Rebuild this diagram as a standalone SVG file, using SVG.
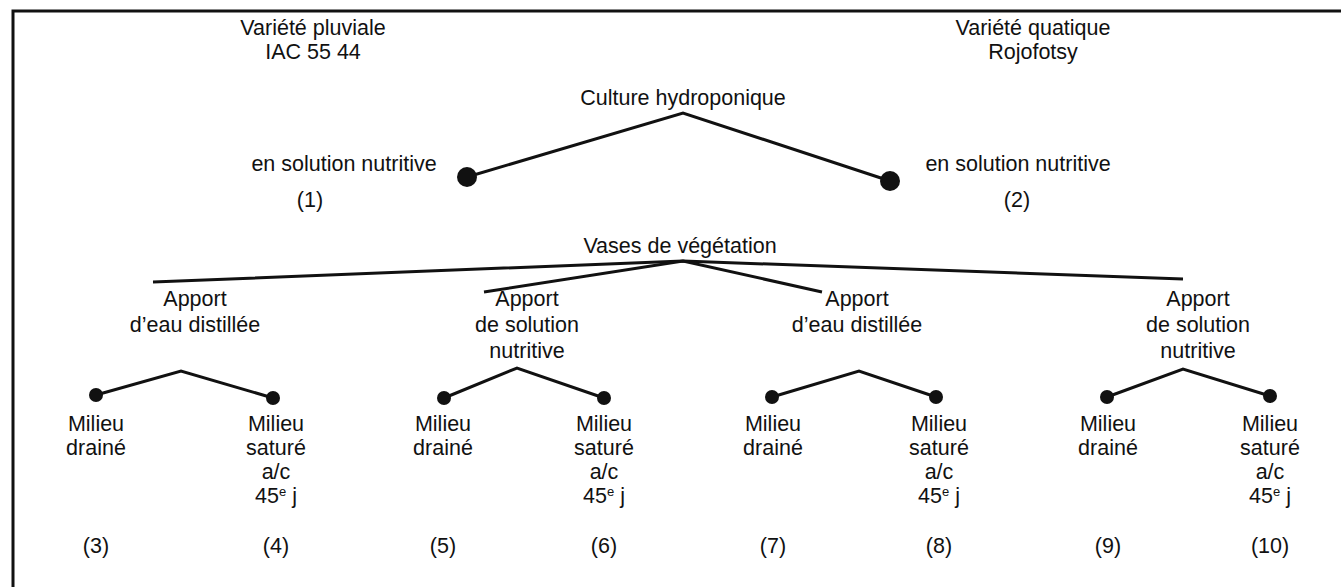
<svg xmlns="http://www.w3.org/2000/svg" width="1341" height="587" viewBox="0 0 1341 587">
<style>
text{font-family:"Liberation Sans",Arial,sans-serif;font-size:21.5px;fill:#111;text-anchor:middle}
.ln{stroke:#111;stroke-width:3;fill:none;stroke-linejoin:miter}
.big{fill:#111}
.sm{fill:#111}
.frame{stroke:#111;stroke-width:3;fill:none}
.sup{font-size:13px}
</style>
<rect width="1341" height="587" fill="#fff"/>
<path class="frame" d="M13,587 V11 H1341"/>
<g id="varietes">
<g id="var-pluviale"><text x="313" y="35">Variété pluviale</text><text x="313" y="59">IAC 55 44</text></g>
<g id="var-aquatique"><text x="1033" y="35">Variété quatique</text><text x="1033" y="59">Rojofotsy</text></g>
</g>
<g id="connectors">
<path class="ln" d="M467,177 L683,113 L890,181"/>
<path class="ln" d="M153,282 L683,261 L1183,279"/>
<path class="ln" d="M484,292 L683,261 L822,292"/>
<path class="ln" d="M96,395 L181,371 L273,398"/>
<path class="ln" d="M444,398 L517,368 L604,398"/>
<path class="ln" d="M772,397 L859,371 L936,397"/>
<path class="ln" d="M1107,397 L1183,369 L1270,396"/>
</g>
<g id="hydro"><text x="683" y="105">Culture hydroponique</text></g>
<g id="n1"><circle class="big" cx="467" cy="177" r="10"/><text x="344" y="171">en solution nutritive</text><text x="310" y="207">(1)</text></g>
<g id="n2"><circle class="big" cx="890" cy="181" r="10"/><text x="1018" y="171">en solution nutritive</text><text x="1017" y="207">(2)</text></g>
<g id="vases"><text x="680" y="253">Vases de végétation</text></g>
<g id="apport1"><text x="195" y="306">Apport</text><text x="195" y="332">d’eau distillée</text></g>
<g id="apport2"><text x="527" y="306">Apport</text><text x="527" y="332">de solution</text><text x="527" y="358">nutritive</text></g>
<g id="apport3"><text x="857" y="306">Apport</text><text x="857" y="332">d’eau distillée</text></g>
<g id="apport4"><text x="1198" y="306">Apport</text><text x="1198" y="332">de solution</text><text x="1198" y="358">nutritive</text></g>
<g id="m3"><circle class="sm" cx="96" cy="395" r="7"/><text x="96" y="431">Milieu</text><text x="96" y="455">drainé</text><text x="96" y="553">(3)</text></g>
<g id="m4"><circle class="sm" cx="273" cy="398" r="7"/><text x="276" y="431">Milieu</text><text x="276" y="455">saturé</text><text x="276" y="479">a/c</text><text x="276" y="503">45<tspan class="sup" dy="-7">e</tspan><tspan dy="7"> j</tspan></text><text x="276" y="553">(4)</text></g>
<g id="m5"><circle class="sm" cx="444" cy="398" r="7"/><text x="443" y="431">Milieu</text><text x="443" y="455">drainé</text><text x="443" y="553">(5)</text></g>
<g id="m6"><circle class="sm" cx="604" cy="398" r="7"/><text x="604" y="431">Milieu</text><text x="604" y="455">saturé</text><text x="604" y="479">a/c</text><text x="604" y="503">45<tspan class="sup" dy="-7">e</tspan><tspan dy="7"> j</tspan></text><text x="604" y="553">(6)</text></g>
<g id="m7"><circle class="sm" cx="772" cy="397" r="7"/><text x="773" y="431">Milieu</text><text x="773" y="455">drainé</text><text x="773" y="553">(7)</text></g>
<g id="m8"><circle class="sm" cx="936" cy="397" r="7"/><text x="939" y="431">Milieu</text><text x="939" y="455">saturé</text><text x="939" y="479">a/c</text><text x="939" y="503">45<tspan class="sup" dy="-7">e</tspan><tspan dy="7"> j</tspan></text><text x="939" y="553">(8)</text></g>
<g id="m9"><circle class="sm" cx="1107" cy="397" r="7"/><text x="1108" y="431">Milieu</text><text x="1108" y="455">drainé</text><text x="1108" y="553">(9)</text></g>
<g id="m10"><circle class="sm" cx="1270" cy="396" r="7"/><text x="1270" y="431">Milieu</text><text x="1270" y="455">saturé</text><text x="1270" y="479">a/c</text><text x="1270" y="503">45<tspan class="sup" dy="-7">e</tspan><tspan dy="7"> j</tspan></text><text x="1270" y="553">(10)</text></g>
</svg>
